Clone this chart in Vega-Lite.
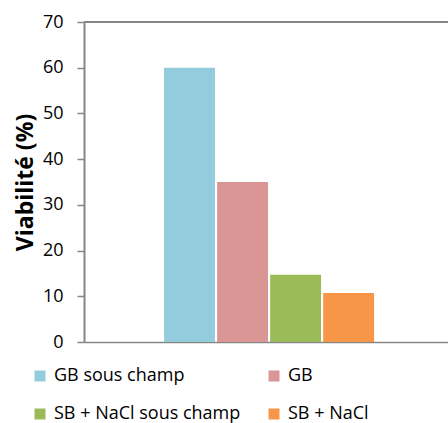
{
  "$schema": "https://vega.github.io/schema/vega-lite/v6.json",
  "autosize": "none",
  "width": 364,
  "height": 320,
  "padding": {"left": 84, "top": 22, "right": 0, "bottom": 81},
  "background": "white",
  "config": {
    "font": "Open Sans",
    "view": {"stroke": null}
  },
  "data": {
    "values": [
      {"groupe": "A", "condition": "GB sous champ", "viabilite": 60},
      {"groupe": "A", "condition": "GB", "viabilite": 35},
      {"groupe": "A", "condition": "SB + NaCl sous champ", "viabilite": 14.7},
      {"groupe": "A", "condition": "SB + NaCl", "viabilite": 10.7}
    ]
  },
  "layer": [
    {
      "mark": {"type": "bar"},
      "encoding": {
        "x": {
          "field": "groupe",
          "type": "nominal",
          "scale": {"paddingInner": 0, "paddingOuter": 0.3667, "align": 0.52},
          "axis": {
            "title": null,
            "labels": false,
            "ticks": false,
            "domainColor": "#868686",
            "domainWidth": 1.7
          }
        },
        "xOffset": {
          "field": "condition",
          "type": "nominal",
          "sort": ["GB sous champ", "GB", "SB + NaCl sous champ", "SB + NaCl"],
          "scale": {"paddingInner": 0.04, "paddingOuter": 0}
        },
        "y": {
          "field": "viabilite",
          "type": "quantitative",
          "scale": {"domain": [0, 70], "nice": false},
          "axis": {
            "values": [0, 10, 20, 30, 40, 50, 60, 70],
            "title": "Viabilité (%)",
            "titleFontSize": 23,
            "titleFontWeight": "bold",
            "titleColor": "#000000",
            "titlePadding": 5,
            "labelFontSize": 18,
            "labelColor": "#000000",
            "labelPadding": 14,
            "tickSize": 7,
            "tickColor": "#868686",
            "tickWidth": 1.5,
            "domainColor": "#868686",
            "domainWidth": 2,
            "grid": false
          }
        },
        "color": {
          "field": "condition",
          "type": "nominal",
          "sort": ["GB sous champ", "GB", "SB + NaCl sous champ", "SB + NaCl"],
          "scale": {
            "domain": ["GB sous champ", "GB", "SB + NaCl sous champ", "SB + NaCl"],
            "range": ["#93CDDD", "#D99694", "#9BBB59", "#F79646"]
          },
          "legend": {
            "title": null,
            "orient": "none",
            "legendX": -53,
            "legendY": 345,
            "padding": 0,
            "direction": "horizontal",
            "columns": 2,
            "columnPadding": 24,
            "rowPadding": 20,
            "symbolType": "square",
            "symbolSize": 121,
            "symbolStrokeWidth": 0,
            "labelFontSize": 18,
            "labelLimit": 300,
            "labelColor": "#000000",
            "labelOffset": 5
          }
        }
      }
    },
    {
      "mark": {"type": "rule", "color": "#868686", "strokeWidth": 1.5},
      "encoding": {"y": {"datum": 70}}
    }
  ]
}
